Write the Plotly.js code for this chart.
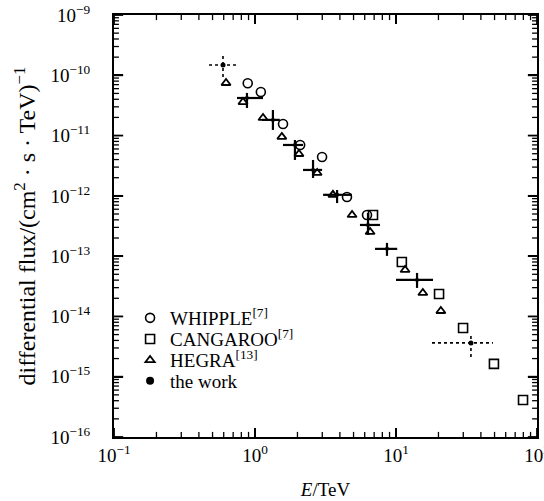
<!DOCTYPE html>
<html>
<head>
<meta charset="utf-8">
<script src="https://cdn.plot.ly/plotly-3.0.1.min.js"></script>
<style>html,body{margin:0;padding:0;background:#fff;}#chart{width:544px;height:501px;}</style>
</head>
<body>
<div id="chart"></div>
<script>
// WHIPPLE
const whippleE = [0.888, 1.10, 1.58, 2.09, 2.99, 4.49, 6.23];
const whippleF = [7.36e-11, 5.28e-11, 1.56e-11, 6.98e-12, 4.42e-12, 9.6e-13, 4.82e-13];
// CANGAROO
const cangarooE = [6.87, 11.0, 20.2, 29.9, 49.5, 79.6];
const cangarooF = [4.82e-13, 8.0e-14, 2.36e-14, 6.44e-15, 1.63e-15, 4.12e-16];
// HEGRA
const hegraE = [0.623, 0.822, 1.14, 1.55, 2.05, 2.76, 3.57, 4.88, 6.55, 11.6, 15.5, 20.8];
const hegraF = [7.45e-11, 3.6e-11, 1.96e-11, 9.5e-12, 4.95e-12, 2.4e-12, 1.04e-12, 4.82e-13, 2.52e-13, 5.9e-14, 2.45e-14, 1.23e-14];
// the work
const workE    = [0.593, 0.877, 1.34, 1.92, 2.58, 3.82, 6.33, 8.63, 14.1, 34.0];
const workF    = [1.48e-10, 4.2e-11, 1.82e-11, 6.98e-12, 2.69e-12, 1.04e-12, 3.29e-13, 1.32e-13, 4.03e-14, 3.64e-15];
const workElo  = [0.472, 0.745, 1.12, 1.58, 2.19, 3.04, 5.55, 7.10, 10.0, 18.0];
const workEhi  = [0.733, 1.14, 1.50, 2.19, 2.99, 4.87, 7.70, 10.2, 18.3, 48.7];
const workFlo  = [9.4e-11, 2.87e-11, 1.24e-11, 3.94e-12, 1.98e-12, 7.6e-13, 2.25e-13, 1.01e-13, 2.97e-14, 2.13e-15];
const workFhi  = [2.09e-10, 5.1e-11, 2.66e-11, 8.45e-12, 3.94e-12, 1.25e-12, 5.2e-13, 1.66e-13, 5.26e-14, 5.3e-15];
const workDotted = [true, false, false, false, false, false, false, false, false, true];

const xTickVals = [0.1, 1, 10, 100];
const xTickText = ['10<sup>−1</sup>', '10<sup>0</sup>', '10<sup>1</sup>', '10<sup>2</sup>'];
const yTickVals = [1e-16, 1e-15, 1e-14, 1e-13, 1e-12, 1e-11, 1e-10, 1e-9];
const yTickText = ['10<sup>−16</sup>', '10<sup>−15</sup>', '10<sup>−14</sup>', '10<sup>−13</sup>', '10<sup>−12</sup>', '10<sup>−11</sup>', '10<sup>−10</sup>', '10<sup>−9</sup>'];

const X_RANGE = [-1, 2];     // log10 of E range
const Y_RANGE = [-16, -9];   // log10 of flux range

function minorVals(lo, hi) {
  const out = [];
  for (let e = lo; e < hi; e++) for (let k = 2; k <= 9; k++) out.push(k * Math.pow(10, e));
  return out;
}
const xMinor = minorVals(X_RANGE[0], X_RANGE[1]);
const yMinor = minorVals(Y_RANGE[0], Y_RANGE[1]);

const serif = '"Liberation Serif", "Times New Roman", serif';

const solidIdx = workE.map((_, i) => i).filter(i => !workDotted[i]);
const dottedIdx = workE.map((_, i) => i).filter(i => workDotted[i]);

const dotX = [], dotY = [];
dottedIdx.forEach(i => {
  dotX.push(workElo[i], workEhi[i], null, workE[i], workE[i], null);
  dotY.push(workF[i], workF[i], null, workFlo[i], workFhi[i], null);
});

// tick marks on all four sides, drawn through the axes from the tick value arrays
// (length given as a fraction of a decade on each axis)
function tickTrace(xVals, yVals, xFrac, yFrac, width) {
  const xMin = Math.pow(10, X_RANGE[0]), xMax = Math.pow(10, X_RANGE[1]);
  const yMin = Math.pow(10, Y_RANGE[0]), yMax = Math.pow(10, Y_RANGE[1]);
  const fx = Math.pow(10, xFrac), fy = Math.pow(10, yFrac);
  const tx = [], ty = [];
  xVals.forEach(v => {
    tx.push(v, v, null, v, v, null);
    ty.push(yMin, yMin * fy, null, yMax, yMax / fy, null);
  });
  yVals.forEach(v => {
    tx.push(xMin, xMin * fx, null, xMax, xMax / fx, null);
    ty.push(v, v, null, v, v, null);
  });
  return {x: tx, y: ty, type: 'scatter', mode: 'lines', showlegend: false, hoverinfo: 'skip',
          line: {color: 'black', width: width}, connectgaps: false};
}

const traces = [
  tickTrace(xMinor, yMinor, 0.035, 0.085, 1.3),
  tickTrace(xTickVals, yTickVals, 0.065, 0.15, 1.8),
  {
    x: whippleE, y: whippleF, type: 'scatter', mode: 'markers', name: 'WHIPPLE<sup>[7]</sup>', legend: 'legend',
    marker: {symbol: 'circle-open', size: 9, color: 'black', line: {width: 1.6, color: 'black'}}
  },
  {
    x: cangarooE, y: cangarooF, type: 'scatter', mode: 'markers', name: 'CANGAROO<sup>[7]</sup>', legend: 'legend2',
    marker: {symbol: 'square-open', size: 9, color: 'black', line: {width: 1.6, color: 'black'}}
  },
  {
    x: hegraE, y: hegraF, type: 'scatter', mode: 'markers', name: 'HEGRA<sup>[13]</sup>', legend: 'legend3',
    marker: {symbol: 'triangle-up-open', size: 8, color: 'black', line: {width: 1.8, color: 'black'}}
  },
  {
    x: dotX, y: dotY, type: 'scatter', mode: 'lines', showlegend: false, hoverinfo: 'skip',
    line: {color: 'black', width: 1.6, dash: 'dot'}, connectgaps: false
  },
  {
    x: dottedIdx.map(i => workE[i]), y: dottedIdx.map(i => workF[i]), type: 'scatter', mode: 'markers',
    showlegend: false, marker: {symbol: 'circle', size: 5, color: 'black'}
  },
  {
    x: solidIdx.map(i => workE[i]), y: solidIdx.map(i => workF[i]), type: 'scatter', mode: 'markers',
    showlegend: false,
    marker: {symbol: 'circle', size: 4, color: 'black'},
    error_x: {type: 'data', symmetric: false,
      array: solidIdx.map(i => workEhi[i] - workE[i]),
      arrayminus: solidIdx.map(i => workE[i] - workElo[i]),
      color: 'black', thickness: 2.2, width: 0},
    error_y: {type: 'data', symmetric: false,
      array: solidIdx.map(i => workFhi[i] - workF[i]),
      arrayminus: solidIdx.map(i => workF[i] - workFlo[i]),
      color: 'black', thickness: 2.2, width: 0}
  },
  {
    x: [null], y: [null], type: 'scatter', mode: 'markers', name: 'the work', legend: 'legend4',
    marker: {symbol: 'circle', size: 8, color: 'black'}
  }
];

const axisFont = {family: serif, size: 19, color: 'black'};

const baseAxis = {
  ticks: 'inside', ticklen: 9, tickwidth: 1.8, tickcolor: 'black',
  showline: true, linewidth: 2, linecolor: 'black', mirror: 'allticks',
  showgrid: false, zeroline: false, tickfont: axisFont, ticklabeloverflow: 'allow'
};

function legendAt(yc) {
  return {
    x: 0.038, y: yc, xanchor: 'left', yanchor: 'middle',
    bgcolor: 'rgba(0,0,0,0)', borderwidth: 0,
    font: {family: serif, size: 19, color: 'black'},
    itemwidth: 30
  };
}

const layout = {
  width: 544, height: 501,
  margin: {l: 114, r: 7, t: 15, b: 64},
  paper_bgcolor: 'white', plot_bgcolor: 'white',
  font: {family: serif, size: 18, color: 'black'},
  showlegend: true,
  legend: legendAt(0.282),
  legend2: legendAt(0.232),
  legend3: legendAt(0.182),
  legend4: legendAt(0.133),
  xaxis: Object.assign({}, baseAxis, {
    type: 'log', range: X_RANGE,
    tickmode: 'array', tickvals: xTickVals, ticktext: xTickText,
    title: {text: '<i>E</i>/TeV', font: {family: serif, size: 19, color: 'black'}, standoff: 18}
  }),
  yaxis: Object.assign({}, baseAxis, {
    type: 'log', range: Y_RANGE,
    tickmode: 'array', tickvals: yTickVals, ticktext: yTickText,
    ticklabelstandoff: 18,
    title: {text: 'differential flux/(cm<sup>2</sup> · s · TeV)<sup>−1</sup>', font: {family: serif, size: 24, color: 'black'}, standoff: 8}
  })
};

Plotly.newPlot('chart', traces, layout, {staticPlot: true, displayModeBar: false});
</script>
</body>
</html>
